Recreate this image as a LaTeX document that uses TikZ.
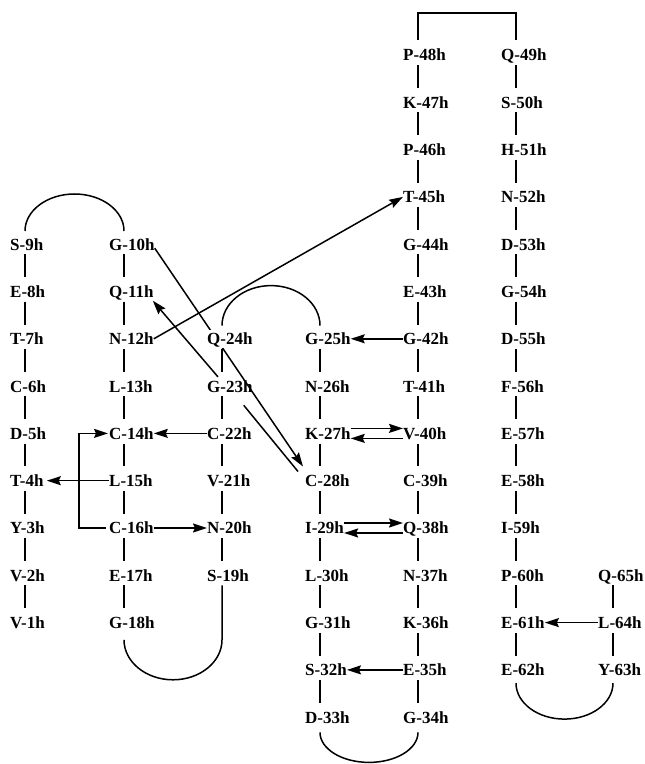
\documentclass[tikz,border=0pt]{standalone}
\usepackage{fontspec}
\setmainfont{Liberation Serif}
\usetikzlibrary{arrows.meta,backgrounds}
\tikzset{
  res/.style={anchor=west, inner xsep=0pt, inner ysep=3pt, text height=12pt, text depth=0pt,
    font=\fontsize{17}{17}\selectfont\bfseries},
  link/.style={line width=1.5pt},
  arr/.style={line width=1.5pt, -{Stealth[length=14pt,width=9pt,inset=2pt]}},
}
\begin{document}
\begin{tikzpicture}[x=1pt,y=1pt]
\useasboundingbox (0,0) rectangle (645,764);
% column 1
\foreach \t/\n/\r in {S-9h/9/4,E-8h/8/5,T-7h/7/6,C-6h/6/7,D-5h/5/8,T-4h/4/9,Y-3h/3/10,V-2h/2/11,V-1h/1/12}
  \node[res] (n\n) at (10,{709-47.3*\r}) {\t};
% column 2
\foreach \t/\n/\r in {G-10h/10/4,Q-11h/11/5,N-12h/12/6,L-13h/13/7,C-14h/14/8,L-15h/15/9,C-16h/16/10,E-17h/17/11,G-18h/18/12}
  \node[res] (n\n) at (109,{709-47.3*\r}) {\t};
% column 3
\node[res,fill=white] (n24) at (207,{709-47.3*6}) {Q-24h};
\foreach \t/\n/\r in {G-23h/23/7,C-22h/22/8,V-21h/21/9,N-20h/20/10,S-19h/19/11}
  \node[res] (n\n) at (207,{709-47.3*\r}) {\t};
% column 4
\foreach \t/\n/\r in {G-25h/25/6,N-26h/26/7,K-27h/27/8,C-28h/28/9,I-29h/29/10,L-30h/30/11,G-31h/31/12,S-32h/32/13,D-33h/33/14}
  \node[res] (n\n) at (305,{709-47.3*\r}) {\t};
% column 5
\foreach \t/\n/\r in {P-48h/48/0,K-47h/47/1,P-46h/46/2,T-45h/45/3,G-44h/44/4,E-43h/43/5,G-42h/42/6,T-41h/41/7,V-40h/40/8,C-39h/39/9,Q-38h/38/10,N-37h/37/11,K-36h/36/12,E-35h/35/13,G-34h/34/14}
  \node[res] (n\n) at (403,{709-47.3*\r}) {\t};
% column 6
\foreach \t/\n/\r in {Q-49h/49/0,S-50h/50/1,H-51h/51/2,N-52h/52/3,D-53h/53/4,G-54h/54/5,D-55h/55/6,F-56h/56/7,E-57h/57/8,E-58h/58/9,I-59h/59/10,P-60h/60/11,E-61h/61/12,E-62h/62/13}
  \node[res] (n\n) at (501,{709-47.3*\r}) {\t};
% column 7
\foreach \t/\n/\r in {Q-65h/65/11,L-64h/64/12,Y-63h/63/13}
  \node[res] (n\n) at (598,{709-47.3*\r}) {\t};

\begin{scope}[on background layer]
% backbone
\foreach \a/\b in {9/8,8/7,7/6,6/5,5/4,4/3,3/2,2/1,
  10/11,11/12,12/13,13/14,14/15,15/16,16/17,17/18,
  24/23,23/22,22/21,21/20,20/19,
  25/26,26/27,27/28,28/29,29/30,30/31,31/32,32/33,
  48/47,47/46,46/45,45/44,44/43,43/42,42/41,41/40,40/39,39/38,38/37,37/36,36/35,35/34,
  49/50,50/51,51/52,52/53,53/54,54/55,55/56,56/57,57/58,58/59,59/60,60/61,61/62,
  65/64,64/63}
  \draw[link] ([xshift=15pt,yshift=-1pt]n\a.south west) -- ([xshift=15pt,yshift=5pt]n\b.north west);
% loops
\draw[link] ([xshift=15pt,yshift=4pt]n9.north west) arc[start angle=180,end angle=0,x radius=49.5,y radius=37];
\draw[link] ([xshift=15pt,yshift=-8pt]n18.south west) arc[start angle=180,end angle=360,x radius=49,y radius=40] -- ([xshift=15pt,yshift=-1pt]n19.south west);
\draw[link] ([xshift=15pt,yshift=4pt]n24.north west) arc[start angle=180,end angle=0,x radius=49,y radius=40];
\draw[link] ([xshift=15pt,yshift=-6pt]n33.south west) arc[start angle=180,end angle=360,x radius=49,y radius=30];
\draw[link] ([xshift=15pt,yshift=-4pt]n62.south west) arc[start angle=180,end angle=360,x radius=48.5,y radius=36];
\draw[link] ([xshift=15pt,yshift=6pt]n48.north west) -- ++(0,27) -| ([xshift=15pt,yshift=6pt]n49.north west);
% arrows
\draw[arr] (n22.west) -- (n14.east);
\draw[arr,shorten >=3pt] (n15.west) -- (n4.east);
\draw[arr] ([xshift=-3pt]n16.west) -- ++(-27,0) |- ([xshift=-1pt]n14.west);
\draw[arr] (n16.east) -- (n20.west);
\draw[arr] (n42.west) -- (n25.east);
\draw[arr] ([yshift=5pt]n27.east) -- ([yshift=5pt]n40.west);
\draw[arr] ([yshift=-5pt]n40.west) -- ([yshift=-5pt]n27.east);
\draw[arr] ([yshift=5pt]n29.east) -- ([yshift=5pt]n38.west);
\draw[arr] ([yshift=-5pt]n38.west) -- ([yshift=-5pt]n29.east);
\draw[arr] (n35.west) -- (n32.east);
\draw[arr] (n64.west) -- (n61.east);
\draw[arr] (n12.east) -- (n45.west);
\draw[arr] ([xshift=11pt]n23.north west) -- ([xshift=-1pt]n11.south east);
\draw[arr] ([yshift=-4pt]n10.east) -- ([xshift=-2pt,yshift=5pt]n28.north west);
\draw[link] ([xshift=-9pt,yshift=-10pt]n23.south east) -- ([xshift=-7pt]n28.north west);
\end{scope}
\end{tikzpicture}
\end{document}
